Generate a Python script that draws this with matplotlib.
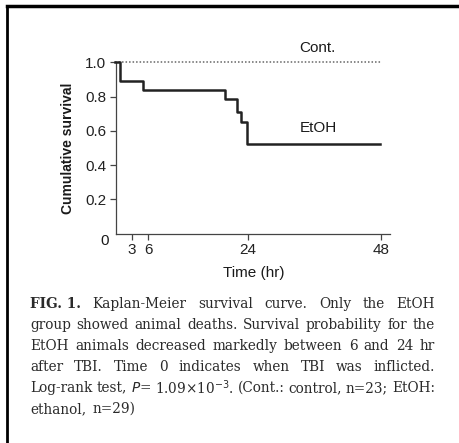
import matplotlib
matplotlib.use("Agg")
import matplotlib.pyplot as plt
from matplotlib.lines import Line2D

# EtOH Kaplan-Meier steps (time in hr, survival)
etoh_t = [0, 1.0, 5.0, 19.9, 22.0, 22.7, 23.9, 47.8]
etoh_s = [1.0, 0.891, 0.839, 0.784, 0.708, 0.653, 0.523, 0.523]
cont_t = [0, 48]
cont_s = [1.0, 1.0]

x_ticks = [3, 6, 24, 48]
y_ticks = [0.2, 0.4, 0.6, 0.8, 1.0]
y_ticklabels = ["0.2", "0.4", "0.6", "0.8", "1.0"]

caption_lines = [
    [("FIG. 1.", True), ("Kaplan-Meier survival curve.  Only the EtOH", False)],
    [("group showed animal deaths. Survival probability for the", False)],
    [("EtOH animals decreased markedly between 6 and 24 hr", False)],
    [("after TBI. Time 0 indicates when TBI was inflicted.", False)],
    [("Log-rank test, $\\it{P}$= 1.09×10$^{-3}$. (Cont.: control, n=23; EtOH:", False)],
    [("ethanol, n=29)", False)],
]

W, H = 460, 443
fig = plt.figure(figsize=(W / 100, H / 100), dpi=100)
fig.patch.set_facecolor("white")

# border of the figure panel
fig.add_artist(Line2D([7 / W, 7 / W], [0, 1 - 6 / H], color="black", lw=2, transform=fig.transFigure))
fig.add_artist(Line2D([7 / W, 1], [1 - 6 / H, 1 - 6 / H], color="black", lw=2.5, transform=fig.transFigure))

ax = fig.add_axes([116 / W, 1 - 233.6 / H, (390 - 116) / W, (233.6 - 62.3) / H])
ax.step(etoh_t, etoh_s, where="post", color="#222222", lw=1.8, clip_on=False, zorder=3)
ax.plot(cont_t, cont_s, color="#666666", lw=1.1, ls=(0, (1, 1.3)), clip_on=False, zorder=2)

ax.set_xlim(0.2, 49.6)
ax.set_ylim(0, 1.0)
ax.set_xticks(x_ticks)
ax.set_xticklabels([str(v) for v in x_ticks])
ax.set_yticks(y_ticks)
ax.set_yticklabels(y_ticklabels)
for s in ["top", "right"]:
    ax.spines[s].set_visible(False)
for s in ["left", "bottom"]:
    ax.spines[s].set_color("#444444")
    ax.spines[s].set_linewidth(0.9)
ax.tick_params(axis="both", colors="#444444", labelcolor="#222222", labelsize=11,
               length=4, width=0.9, pad=3)
for lab in ax.get_xticklabels() + ax.get_yticklabels():
    lab.set_family("Liberation Sans")

sans = dict(family="Liberation Sans", color="#1a1a1a", ha="center", va="center")
fig.text(105 / W, 1 - 241 / H, "0", fontsize=11, **sans)
fig.text(68 / W, 1 - 148 / H, "Cumulative survival", rotation=90, fontsize=10,
         fontweight="bold", **sans)
fig.text(254 / W, 1 - 273 / H, "Time (hr)", fontsize=11, **sans)
fig.text(317 / W, 1 - 47.5 / H, "Cont.", fontsize=11, **sans)
fig.text(318 / W, 1 - 128 / H, "EtOH", fontsize=11, **sans)

# justified caption
renderer = fig.canvas.get_renderer()
left_px, right_px = 30, 435
line_y = [304, 325, 346, 367, 388, 409]
cap_kw = dict(fontsize=9.8, family=["DejaVu Serif"], color="#2a2a2a", va="center", ha="left")

for i, (parts, yc) in enumerate(zip(caption_lines, line_y)):
    words = []
    for txt, bold in parts:
        if bold:
            words.append((txt, bold))
        else:
            for w in txt.split():
                words.append((w, bold))
    arts = [fig.text(0, 1 - yc / H, w, fontweight="bold" if b else "normal", **cap_kw)
            for w, b in words]
    widths = [a.get_window_extent(renderer).width for a in arts]
    if i == len(caption_lines) - 1:
        gap = 6
    else:
        gap = (right_px - left_px - sum(widths)) / (len(arts) - 1)
    x = left_px
    for a, w in zip(arts, widths):
        a.set_x(x / W)
        x += w + gap

fig.savefig("out.png", dpi=100, facecolor="white")
